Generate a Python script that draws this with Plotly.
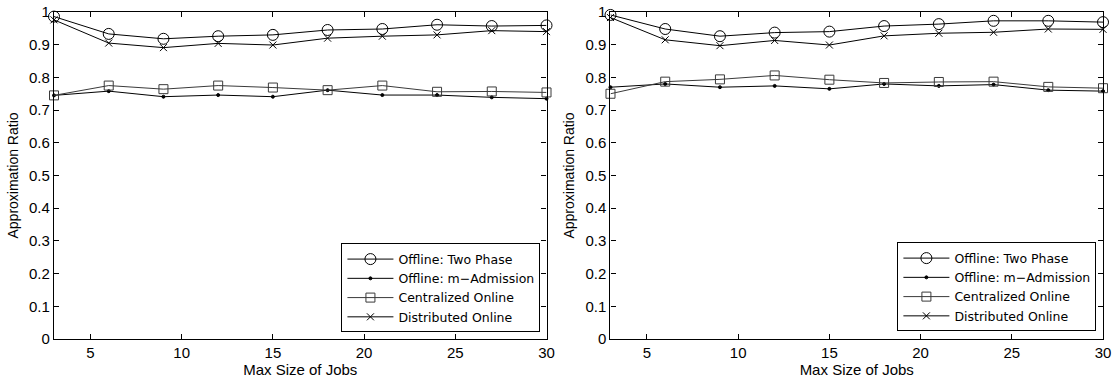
import plotly.graph_objects as go
from plotly.subplots import make_subplots

# Max job size on the x axis
job_sizes = [3, 6, 9, 12, 15, 18, 21, 24, 27, 30]

# Left panel
left_two_phase = [0.986, 0.933, 0.918, 0.926, 0.930, 0.945, 0.948, 0.961, 0.957, 0.959]
left_m_admission = [0.745, 0.758, 0.741, 0.746, 0.741, 0.761, 0.746, 0.746, 0.739, 0.735]
left_centralized = [0.745, 0.775, 0.764, 0.775, 0.769, 0.761, 0.775, 0.756, 0.757, 0.754]
left_distributed = [0.976, 0.905, 0.891, 0.904, 0.899, 0.920, 0.926, 0.930, 0.943, 0.940]

# Right panel
right_two_phase = [0.991, 0.948, 0.926, 0.937, 0.940, 0.957, 0.963, 0.973, 0.973, 0.969]
right_m_admission = [0.770, 0.780, 0.770, 0.774, 0.765, 0.780, 0.774, 0.778, 0.761, 0.758]
right_centralized = [0.750, 0.787, 0.794, 0.806, 0.793, 0.783, 0.786, 0.787, 0.771, 0.767]
right_distributed = [0.983, 0.915, 0.897, 0.913, 0.899, 0.927, 0.935, 0.938, 0.948, 0.947]

series_names = ["Offline: Two Phase", "Offline: m\u2212Admission",
                "Centralized Online", "Distributed Online"]
x_ticks = [5, 10, 15, 20, 25, 30]
y_ticks = [0, 0.1, 0.2, 0.3, 0.4, 0.5, 0.6, 0.7, 0.8, 0.9, 1]
y_tick_text = ["0", "0.1", "0.2", "0.3", "0.4", "0.5", "0.6", "0.7", "0.8", "0.9", "1"]

styles = [
    dict(symbol="circle-open", size=11),
    dict(symbol="circle", size=3),
    dict(symbol="square-open", size=9),
    dict(symbol="x-thin-open", size=7),
]
line_colors = ["#000000", "#000000", "#3a3a3a", "#000000"]

fig = make_subplots(rows=1, cols=2, horizontal_spacing=0.061)

panels = [
    (1, "legend", [left_two_phase, left_m_admission, left_centralized, left_distributed]),
    (2, "legend2", [right_two_phase, right_m_admission, right_centralized, right_distributed]),
]
for col, legend_id, data in panels:
    for name, ys, st, lc in zip(series_names, data, styles, line_colors):
        marker = dict(symbol=st["symbol"], size=st["size"], color=lc,
                      line=dict(color=lc, width=1))
        fig.add_trace(go.Scatter(
            x=job_sizes, y=ys, name=name, mode="lines+markers",
            line=dict(color=lc, width=1), marker=marker,
            legend=legend_id, cliponaxis=False,
        ), row=1, col=col)

family = "Liberation Sans, Arial, sans-serif"
tick_font = dict(family=family, size=15, color="#000000")
xtitle_font = dict(family=family, size=15, color="#000000")
ytitle_font = dict(family=family, size=14, color="#000000")
legend_font = dict(family="DejaVu Sans, Liberation Sans, sans-serif", size=12.5,
                   color="#000000")
for col in (1, 2):
    fig.update_xaxes(range=[3, 30], tickvals=x_ticks, ticks="inside", ticklen=5,
                     tickcolor="#000000", showline=True, linecolor="#000000",
                     linewidth=1.2, mirror="ticks", showgrid=False, zeroline=False,
                     automargin=False,
                     title=dict(text="Max Size of Jobs", font=xtitle_font, standoff=2),
                     tickfont=tick_font, row=1, col=col)
    fig.update_yaxes(range=[0, 1], tickvals=y_ticks, ticktext=y_tick_text,
                     ticks="inside", ticklen=5, tickcolor="#000000",
                     showline=True, linecolor="#000000", linewidth=1.2,
                     mirror="ticks", showgrid=False, zeroline=False,
                     automargin=False,
                     title=dict(text="Approximation Ratio", font=ytitle_font, standoff=7),
                     tickfont=tick_font, row=1, col=col)

legend_style = dict(bgcolor="#ffffff", bordercolor="#000000", borderwidth=1,
                    font=legend_font, xanchor="left", yanchor="bottom",
                    tracegroupgap=0, itemwidth=46)
fig.update_layout(
    width=1115, height=381,
    margin=dict(l=54, r=12, t=12, b=42, autoexpand=False),
    paper_bgcolor="#ffffff", plot_bgcolor="#ffffff",
    font=tick_font,
    legend=dict(x=0.274, y=0.02, **legend_style),
    legend2=dict(x=0.804, y=0.023, **legend_style),
)

fig.write_html("out.html")
